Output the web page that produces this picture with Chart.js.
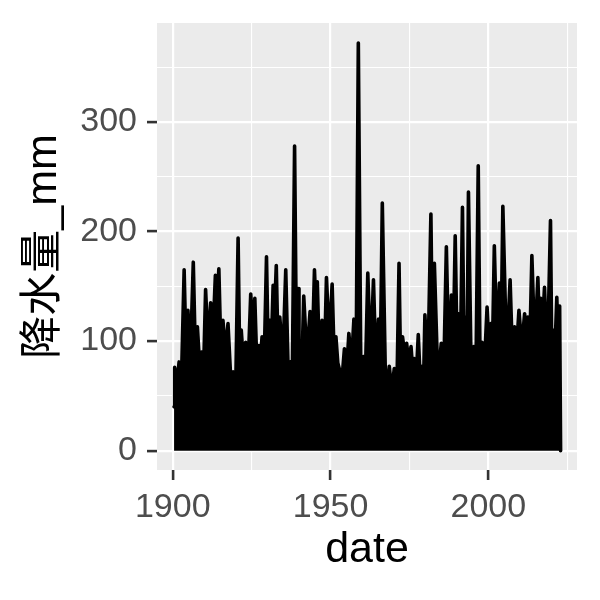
<!DOCTYPE html>
<html>
<head>
<meta charset="utf-8">
<script src="https://cdn.jsdelivr.net/npm/chart.js@4/dist/chart.umd.min.js"></script>
<style>
  html, body { margin: 0; padding: 0; background: #fff; }
  #rain-chart { display: block; }
</style>
</head>
<body>
<canvas id="rain-chart" width="600" height="600"></canvas>
<script>
// spike tops and the troughs between them
const years = [
  1900.4, 1900.6, 1901.3, 1902.0, 1902.8, 1903.6, 1904.2, 1904.8, 1905.6, 1906.5,
  1907.1, 1907.8, 1908.5, 1909.1, 1909.8, 1910.4, 1911.2, 1912.0, 1912.8, 1913.5,
  1914.1, 1914.6, 1915.3, 1915.9, 1916.7, 1917.5, 1918.3, 1919.1, 1920.0, 1920.7,
  1921.2, 1921.7, 1922.4, 1923.1, 1923.9, 1924.7, 1925.4, 1926.0, 1926.7, 1927.3,
  1927.8, 1928.3, 1929.0, 1929.7, 1930.2, 1930.7, 1931.3, 1931.8, 1932.3, 1932.8,
  1933.4, 1933.9, 1934.9, 1935.8, 1936.5, 1937.2, 1937.9, 1938.6, 1939.2, 1939.7,
  1940.0, 1940.3, 1940.9, 1941.5, 1942.5, 1943.5, 1944.2, 1944.9, 1945.3, 1945.8,
  1946.5, 1947.3, 1948.0, 1948.7, 1949.6, 1950.5, 1951.1, 1951.7, 1952.3, 1953.0,
  1953.7, 1954.4, 1955.1, 1955.8, 1956.6, 1957.4, 1958.1, 1958.8, 1959.6, 1960.4,
  1961.1, 1961.8, 1962.7, 1963.6, 1964.4, 1965.2, 1965.8, 1966.4, 1967.5, 1968.6,
  1969.4, 1970.2, 1971.0, 1971.7, 1972.2, 1972.8, 1973.5, 1974.1, 1974.8, 1975.5,
  1976.0, 1976.5, 1977.2, 1977.8, 1978.4, 1979.0, 1979.5, 1979.9, 1980.8, 1981.8,
  1982.3, 1982.9, 1984.0, 1985.1, 1985.9, 1986.7, 1987.5, 1988.3, 1988.9, 1989.5,
  1990.1, 1990.6, 1991.2, 1991.8, 1992.3, 1992.9, 1993.3, 1993.7, 1994.6, 1995.4,
  1996.1, 1996.8, 1997.4, 1998.0, 1998.8, 1999.6, 2000.2, 2000.8, 2001.3, 2001.9,
  2002.7, 2003.5, 2004.0, 2004.6, 2005.8, 2006.9, 2007.6, 2008.3, 2009.0, 2009.7,
  2010.6, 2011.5, 2012.0, 2012.5, 2013.1, 2013.8, 2014.7, 2015.7, 2016.1, 2016.6,
  2017.2, 2017.8, 2018.7, 2019.7, 2020.1, 2020.5, 2021.1, 2021.7, 2022.1, 2022.6,
  2022.9
];
const rainfall = [
  40, 76, 60, 81, 70, 165, 90, 128, 85, 172,
  95, 113, 78, 90, 76, 147, 95, 135, 110, 160,
  138, 166, 85, 119, 90, 116, 70, 72, 66, 194,
  85, 110, 80, 99, 78, 143, 110, 139, 72, 96,
  85, 104, 85, 177, 95, 119, 100, 151, 130, 169,
  85, 122, 85, 165, 80, 81, 72, 278, 90, 148,
  80, 80, 74, 141, 85, 127, 90, 165, 135, 154,
  80, 119, 75, 158, 100, 152, 90, 104, 80, 72,
  68, 93, 72, 107, 78, 120, 75, 372, 70, 86,
  75, 162, 85, 156, 75, 120, 90, 226, 48, 77,
  55, 75, 52, 171, 75, 104, 88, 98, 80, 95,
  75, 84, 70, 106, 65, 77, 65, 124, 70, 216,
  90, 171, 65, 98, 75, 186, 80, 142, 95, 196,
  90, 125, 95, 222, 90, 122, 100, 236, 65, 95,
  78, 260, 72, 99, 80, 131, 95, 116, 90, 187,
  95, 153, 90, 223, 85, 156, 90, 113, 95, 128,
  95, 125, 105, 122, 90, 178, 95, 158, 120, 139,
  115, 149, 80, 210, 90, 110, 90, 140, 100, 132,
  0
];

// axis ticks (majors are labelled, minors only get a grid line)
const xTicks = [1900, 1925, 1950, 1975, 2000, 2025];
const xLabels = [1900, 1950, 2000];
const yTicks = [0, 50, 100, 150, 200, 250, 300, 350];
const yLabels = [0, 100, 200, 300];

const points = years.map((yr, i) => ({ x: yr, y: rainfall[i] }));

const panelBg = {
  id: 'panelBg',
  beforeDraw(chart) {
    const { ctx, chartArea: a } = chart;
    ctx.save();
    ctx.fillStyle = '#ffffff';
    ctx.fillRect(0, 0, chart.width, chart.height);
    ctx.fillStyle = '#ebebeb';
    ctx.fillRect(a.left, a.top, a.right - a.left, a.bottom - a.top);
    ctx.restore();
  }
};

const font = "'Liberation Sans', Arial, 'Noto Sans CJK SC', sans-serif";

function gridFor(labels) {
  return {
    color: '#ffffff',
    lineWidth: (c) => labels.includes(c.tick && c.tick.value) ? 2.2 : 1.1,
    tickColor: (c) => labels.includes(c.tick && c.tick.value) ? '#333333' : 'rgba(0,0,0,0)',
    tickWidth: 2.6,
    tickLength: 10
  };
}

new Chart(document.getElementById('rain-chart'), {
  type: 'line',
  data: {
    datasets: [{
      label: '降水量_mm',
      data: points,
      borderColor: '#000000',
      backgroundColor: '#000000',
      borderWidth: 3.6,
      borderJoinStyle: 'round',
      borderCapStyle: 'round',
      fill: 'origin',
      tension: 0,
      pointRadius: 0
    }]
  },
  options: {
    responsive: false,
    animation: false,
    layout: { padding: { top: 23, right: 23, left: 0, bottom: 0 } },
    plugins: {
      legend: { display: false },
      tooltip: { enabled: false }
    },
    scales: {
      x: {
        type: 'linear',
        min: 1895.0,
        max: 2028.1,
        afterBuildTicks: (s) => { s.ticks = xTicks.map(v => ({ value: v })); },
        afterFit: (s) => { s.height = 130; s.paddingLeft = 0; s.paddingRight = 0; },
        grid: gridFor(xLabels),
        border: { display: false },
        ticks: {
          autoSkip: false,
          maxRotation: 0,
          padding: 7,
          color: '#4d4d4d',
          font: { family: font, size: 34 },
          callback: (v) => xLabels.includes(v) ? String(v) : ''
        },
        title: {
          display: true,
          text: 'date',
          color: '#000000',
          font: { family: font, size: 43 },
          padding: { top: 0, bottom: 24 }
        }
      },
      y: {
        type: 'linear',
        min: -17.6,
        max: 390.2,
        afterBuildTicks: (s) => { s.ticks = yTicks.map(v => ({ value: v })); },
        afterFit: (s) => { s.width = 157; s.paddingTop = 0; s.paddingBottom = 0; },
        grid: gridFor(yLabels),
        border: { display: false },
        ticks: {
          autoSkip: false,
          padding: 10,
          color: '#4d4d4d',
          font: { family: font, size: 34 },
          callback: (v) => yLabels.includes(v) ? String(v) : ''
        },
        title: {
          display: true,
          text: '降水量_mm',
          color: '#000000',
          font: { family: font, size: 43 },
          padding: { top: 18, bottom: 0 }
        }
      }
    }
  },
  plugins: [panelBg]
});
</script>
</body>
</html>
